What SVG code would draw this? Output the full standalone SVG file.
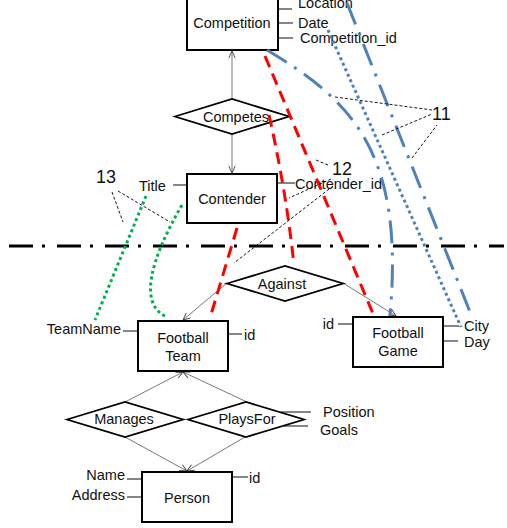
<svg xmlns="http://www.w3.org/2000/svg" width="507" height="528" viewBox="0 0 507 528">
  <defs>
    <marker id="arr" viewBox="0 0 8 8" refX="7.5" refY="4" markerWidth="8" markerHeight="8" markerUnits="userSpaceOnUse" orient="auto">
      <path d="M0.5,0.8 L7.5,4 L0.5,7.2" fill="none" stroke="#444" stroke-width="0.9"/>
    </marker>
    <style>
      text { font-family: "Liberation Sans", Arial, sans-serif; font-size: 14.5px; fill: #111; }
      .num { font-size: 18px; }
      .mid { text-anchor: middle; }
      .end { text-anchor: end; }
      .box { fill: #fff; stroke: #000; stroke-width: 2; }
      .dia { fill: #fff; stroke: #000; stroke-width: 1.8; }
      .attr { stroke: #444; stroke-width: 1.3; fill: none; }
      .rel { stroke: #555; stroke-width: 0.8; fill: none; marker-end: url(#arr); }
      .split { stroke: #000; stroke-width: 3; stroke-dasharray: 24 9 3 12; fill: none; }
      .red { stroke: #ff0000; stroke-width: 3; stroke-dasharray: 12 7; fill: none; }
      .blue-dd { stroke: #4f81bd; stroke-width: 3; stroke-dasharray: 23 9 3 9; fill: none; }
      .blue-dot { stroke: #4f81bd; stroke-width: 3; stroke-dasharray: 3 3; fill: none; }
      .green { stroke: #00b050; stroke-width: 3; stroke-dasharray: 3 3; fill: none; }
      .note { stroke: #000; stroke-width: 0.9; stroke-dasharray: 3 2; fill: none; }
    </style>
  </defs>

  <!-- relationship connectors -->
  <g id="connectors">
    <line class="rel" x1="232" y1="99" x2="232" y2="51"/>
    <line class="rel" x1="232" y1="134" x2="232" y2="173"/>
    <line class="rel" x1="227" y1="283" x2="183" y2="320"/>
    <line class="rel" x1="343" y1="283" x2="396" y2="316"/>
    <line class="rel" x1="125" y1="402" x2="183" y2="372"/>
    <line class="rel" x1="247" y1="402" x2="183" y2="372"/>
    <line class="rel" x1="125" y1="437" x2="187" y2="471"/>
    <line class="rel" x1="245" y1="437" x2="187" y2="471"/>
  </g>

  <!-- attribute ticks -->
  <g id="attributes">
    <line class="attr" x1="278" y1="9" x2="292" y2="9"/>
    <line class="attr" x1="278" y1="23" x2="293" y2="23"/>
    <line class="attr" x1="278" y1="38" x2="293" y2="38"/>
    <line class="attr" x1="173" y1="185" x2="187" y2="185"/>
    <line class="attr" x1="277" y1="183" x2="295" y2="183"/>
    <line class="attr" x1="123" y1="331" x2="138" y2="331"/>
    <line class="attr" x1="228" y1="334" x2="242" y2="334"/>
    <line class="attr" x1="338" y1="324" x2="353" y2="324"/>
    <line class="attr" x1="443" y1="326" x2="459" y2="326"/>
    <line class="attr" x1="443" y1="341" x2="458" y2="341"/>
    <line class="attr" x1="281" y1="412" x2="311" y2="412"/>
    <line class="attr" x1="284" y1="426" x2="308" y2="426"/>
    <line class="attr" x1="127" y1="479" x2="142" y2="479"/>
    <line class="attr" x1="127" y1="497" x2="142" y2="497"/>
    <line class="attr" x1="232" y1="477" x2="248" y2="477"/>
    <text x="298" y="8">Location</text>
    <text x="298" y="28">Date</text>
    <text x="300" y="43">Competition_id</text>
    <text x="139" y="191">Title</text>
    <text x="295" y="189">Contender_id</text>
    <text class="end" x="121" y="334">TeamName</text>
    <text x="244" y="340">id</text>
    <text class="end" x="334" y="329">id</text>
    <text x="464" y="331">City</text>
    <text x="464" y="347">Day</text>
    <text x="323" y="417">Position</text>
    <text x="320" y="435">Goals</text>
    <text class="end" x="125" y="480">Name</text>
    <text class="end" x="125" y="500">Address</text>
    <text x="249" y="483">id</text>
  </g>

  <!-- entities -->
  <g id="competition">
    <rect class="box" x="187" y="-2" width="91" height="52"/>
    <text class="mid" x="232" y="28">Competition</text>
  </g>
  <g id="contender">
    <rect class="box" x="187" y="174" width="90" height="49"/>
    <text class="mid" x="232" y="204">Contender</text>
  </g>
  <g id="football-team">
    <rect class="box" x="138" y="321" width="90" height="50"/>
    <text class="mid" x="183" y="343">Football</text>
    <text class="mid" x="183" y="361">Team</text>
  </g>
  <g id="football-game">
    <rect class="box" x="353" y="317" width="90" height="50"/>
    <text class="mid" x="398" y="338">Football</text>
    <text class="mid" x="398" y="356">Game</text>
  </g>
  <g id="person">
    <rect class="box" x="142" y="472" width="90" height="50"/>
    <text class="mid" x="187" y="503">Person</text>
  </g>

  <!-- relationships -->
  <g id="competes">
    <polygon class="dia" points="175,116.5 232,99 289,116.5 232,134"/>
    <text class="mid" x="236" y="122">Competes</text>
  </g>
  <g id="against">
    <polygon class="dia" points="227,283.5 285,266 343,283.5 285,301"/>
    <text class="mid" x="282" y="289">Against</text>
  </g>
  <g id="manages">
    <polygon class="dia" points="67,419.5 125,402 183,419.5 125,437"/>
    <text class="mid" x="124" y="424">Manages</text>
  </g>
  <g id="playsfor">
    <polygon class="dia" points="188,419.5 246,402 304,419.5 246,437"/>
    <text class="mid" x="247" y="424">PlaysFor</text>
  </g>

  <!-- partition line -->
  <line class="split" x1="9" y1="246" x2="504" y2="246"/>

  <!-- mapping lines -->
  <g id="mappings">
    <line class="red" x1="265" y1="56" x2="374" y2="316"/>
    <path class="red" d="M269,115 Q286,190 294,265"/>
    <line class="red" x1="237" y1="228" x2="210" y2="318"/>
    <path class="blue-dd" d="M267,50 C350,100 405,150 390,315"/>
    <line class="blue-dot" x1="328" y1="30" x2="461" y2="327"/>
    <line class="blue-dd" x1="347" y1="3" x2="470" y2="312"/>
    <line class="green" x1="146" y1="196" x2="95" y2="320"/>
    <path class="green" d="M182,205 C150,260 138,305 167,317"/>
  </g>

  <!-- callouts -->
  <g id="callout-11">
    <line class="note" x1="335" y1="97" x2="432" y2="110"/>
    <line class="note" x1="382" y1="135" x2="432" y2="114"/>
    <line class="note" x1="412" y1="158" x2="437" y2="125"/>
    <text class="num" x="432" y="120">11</text>
  </g>
  <g id="callout-12">
    <line class="note" x1="316" y1="160" x2="328" y2="165"/>
    <line class="note" x1="331" y1="179" x2="289" y2="198"/>
    <line class="note" x1="333" y1="186" x2="234" y2="263"/>
    <text class="num" x="332" y="175">12</text>
  </g>
  <g id="callout-13">
    <line class="note" x1="112" y1="192" x2="123" y2="222"/>
    <line class="note" x1="118" y1="191" x2="170" y2="222"/>
    <text class="num" x="96" y="183">13</text>
  </g>
</svg>
